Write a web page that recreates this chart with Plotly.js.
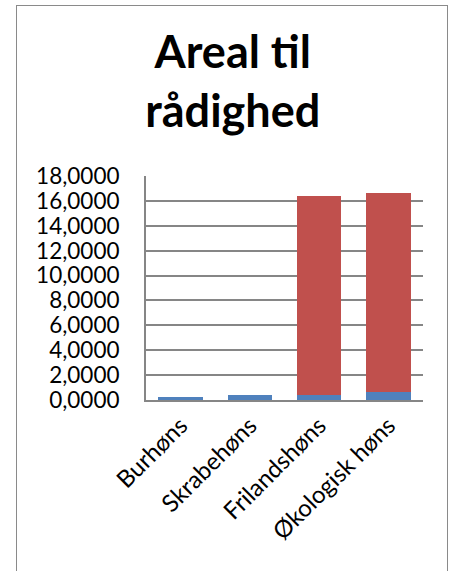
<!DOCTYPE html>
<html>
<head>
<meta charset="utf-8">
<script src="https://cdn.plot.ly/plotly-3.0.1.min.js"></script>
<style>
html,body{margin:0;padding:0;background:#fff;}
#wrap{position:relative;width:452px;height:571px;overflow:hidden;}
#chart{position:absolute;left:0;top:0;width:452px;height:571px;}
#frame{position:absolute;left:16px;top:5px;width:430px;height:600px;border:1.5px solid #8a8a8a;pointer-events:none;}
</style>
</head>
<body>
<div id="wrap"><div id="chart"></div><div id="frame"></div></div>
<script>
var categories = ["Burhøns", "Skrabehøns", "Frilandshøns", "Økologisk høns"];
var seriesBlue = [0.27, 0.43, 0.43, 0.64];
var seriesRed = [0, 0, 16.0, 16.01];
var yTickValues = [0, 2, 4, 6, 8, 10, 12, 14, 16, 18];

var font = "Lato, 'Open Sans', sans-serif";

var traces = [
  {type: "bar", x: categories, y: seriesBlue, name: "Serie 1",
   marker: {color: "#4F81BD"}, hoverinfo: "skip"},
  {type: "bar", x: categories, y: seriesRed, name: "Serie 2",
   marker: {color: "#C0504D"}, hoverinfo: "skip"}
];

var layout = {
  width: 452, height: 571,
  barmode: "stack",
  bargap: 0.36,
  showlegend: false,
  separators: ",.",
  paper_bgcolor: "rgba(0,0,0,0)",
  plot_bgcolor: "rgba(0,0,0,0)",
  margin: {l: 146, r: 29, t: 176, b: 170.5, pad: 0},
  font: {family: font, color: "#000"},
  title: {
    text: "<b>Areal til<br>rådighed</b>",
    font: {family: font, size: 45, color: "#000"},
    x: 0.515, xref: "container", xanchor: "center",
    y: 1 - 68/571, yref: "container", yanchor: "top"
  },
  xaxis: {
    type: "category",
    showgrid: false,
    showline: true, linecolor: "#868686", linewidth: 2,
    ticks: "",
    tickangle: -45,
    tickfont: {family: font, size: 24, color: "#000"},
    zeroline: false
  },
  yaxis: {
    range: [0, 18],
    tickvals: yTickValues,
    tickformat: ".4f",
    showgrid: true, gridcolor: "#868686", gridwidth: 2,
    showline: true, linecolor: "#868686", linewidth: 2,
    ticks: "",
    ticklabelstandoff: 20,
    tickfont: {family: font, size: 22.5, color: "#000"},
    zeroline: false
  }
};

Plotly.newPlot("chart", traces, layout, {displayModeBar: false, staticPlot: true});
</script>
</body>
</html>
